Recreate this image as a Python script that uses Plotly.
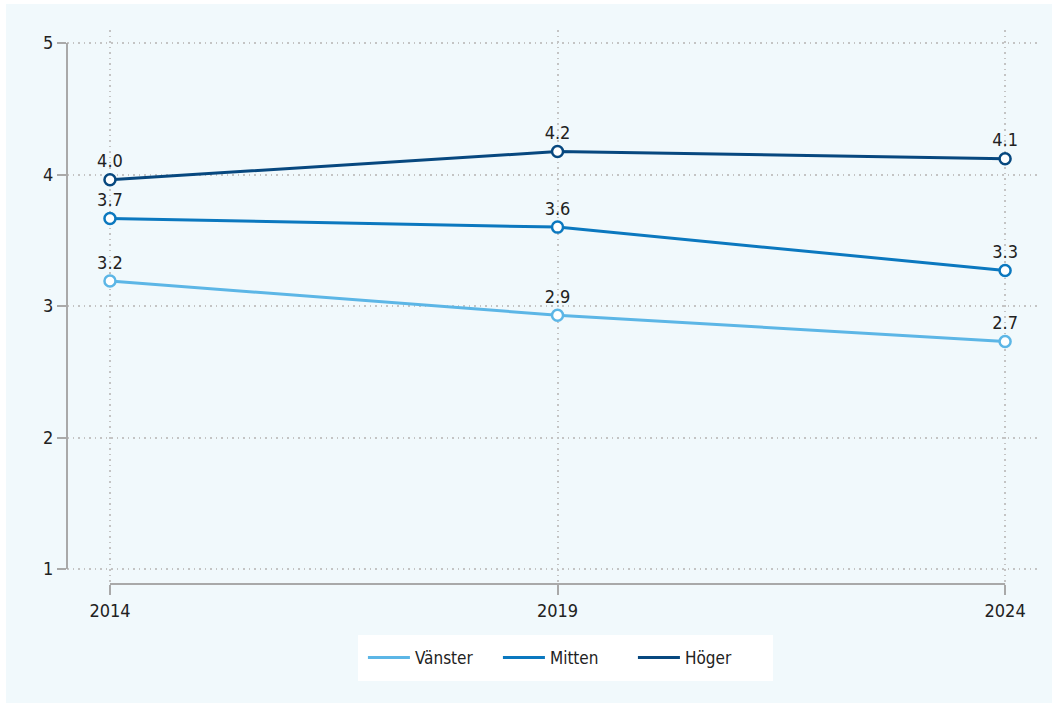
import plotly.graph_objects as go

years = [2014, 2019, 2024]
series_names = ["Vänster", "Mitten", "Höger"]
vanster = [3.19, 2.93, 2.73]
mitten = [3.665, 3.60, 3.27]
hoger = [3.96, 4.175, 4.12]
y_ticks = [1, 2, 3, 4, 5]

colors = {"Vänster": "#5cb6e6", "Mitten": "#0b78bf", "Höger": "#07487f"}
values = {"Vänster": vanster, "Mitten": mitten, "Höger": hoger}

FONT = "DejaVu Sans Condensed, Roboto, sans-serif"
BG = "#f1f9fc"
AXIS = "#a9a9a9"
GRID = "#c4c4c4"
TXT = "#222222"

fig = go.Figure()
for name in series_names:
    fig.add_trace(go.Scatter(
        x=years, y=values[name], name=name, showlegend=False,
        mode="lines+markers+text",
        line=dict(color=colors[name], width=3),
        marker=dict(symbol="circle", size=11, color="white",
                    line=dict(color=colors[name], width=2.5)),
        texttemplate="%{y:.1f}", textposition="top center",
        textfont=dict(family=FONT, size=18, color=TXT),
        cliponaxis=False, hoverinfo="skip",
    ))
# legend entries (line only)
for name in series_names:
    fig.add_trace(go.Scatter(
        x=[None], y=[None], name=name, mode="lines",
        line=dict(color=colors[name], width=3), showlegend=True,
    ))

fig.update_layout(
    width=1058, height=704,
    margin=dict(l=67, r=18, t=30, b=120),
    paper_bgcolor="white",
    plot_bgcolor=BG,
    font=dict(family=FONT, size=18, color=TXT),
    showlegend=True,
    legend=dict(
        orientation="h", x=0.299, xanchor="left", y=-0.092, yanchor="top",
        bgcolor="white", bordercolor="white", borderwidth=5,
        font=dict(family=FONT, size=17, color=TXT),
        entrywidth=78, entrywidthmode="pixels",
        itemwidth=42, tracegroupgap=0,
    ),
    shapes=[
        dict(type="rect", xref="paper", yref="paper",
             x0=-0.0627, x1=1.0123, y0=-0.215, y1=1.047,
             fillcolor=BG, line=dict(width=0), layer="below"),
        dict(type="line", xref="paper", yref="y", x0=0, x1=0, y0=1, y1=5,
             line=dict(color=AXIS, width=2)),
        dict(type="line", xref="x", yref="paper", x0=2014, x1=2024, y0=0, y1=0,
             line=dict(color=AXIS, width=2)),
    ],
)

fig.update_xaxes(
    range=[2013.52, 2024.39], tickvals=years, ticktext=[str(y) for y in years],
    showline=False, zeroline=False,
    showgrid=True, gridcolor=GRID, griddash="1.5px,4px", gridwidth=1.5,
    ticks="outside", ticklen=10, tickwidth=2, tickcolor=AXIS,
    tickfont=dict(family=FONT, size=18, color=TXT),
)
fig.update_yaxes(
    range=[0.886, 5.099], tickvals=y_ticks,
    showline=False, zeroline=False,
    showgrid=True, gridcolor=GRID, griddash="1.5px,4px", gridwidth=1.5,
    ticks="outside", ticklen=9, tickwidth=2, tickcolor=AXIS,
    tickfont=dict(family=FONT, size=18, color=TXT),
)

fig.write_html("out.html", config={"displayModeBar": False},
               post_script="document.body.style.margin='0';")
